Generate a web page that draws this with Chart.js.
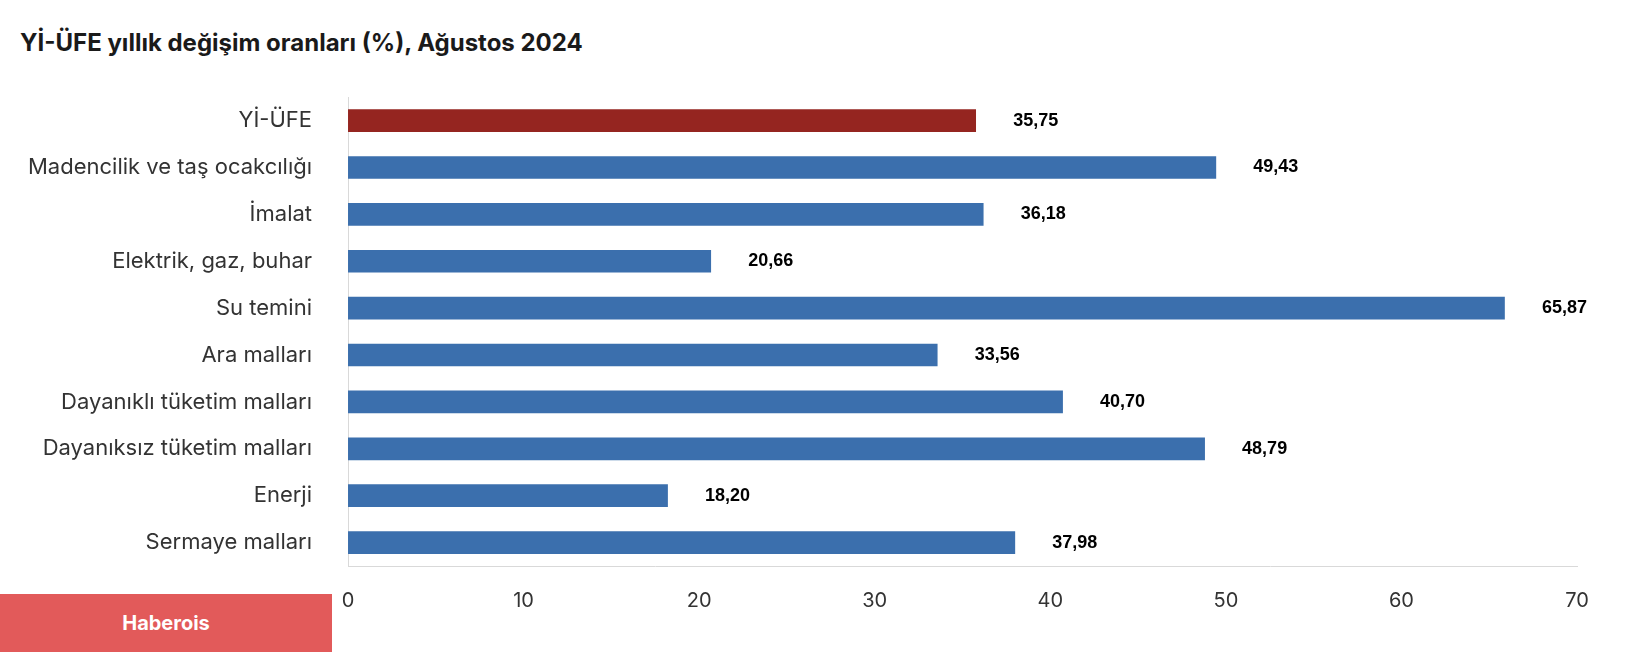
<!DOCTYPE html>
<html><head><meta charset="utf-8">
<script src="https://cdn.jsdelivr.net/npm/chart.js@4/dist/chart.umd.min.js"></script>
<style>
html,body{margin:0;padding:0;background:#fff;width:1628px;height:652px;overflow:hidden;font-family:Inter,"Open Sans",sans-serif}
#title{position:absolute;left:20px;top:28px;font-size:24px;font-weight:700;color:#1a1a1a}
#wrap{position:absolute;left:0;top:56px;width:1628px;height:580px}
#brand{position:absolute;left:0;top:594px;width:332px;height:58px;background:#e25a5a;color:#fff;font-weight:700;font-size:20px;display:flex;align-items:center;justify-content:center}
</style></head><body>
<div id="title">Yİ-ÜFE yıllık değişim oranları (%), Ağustos 2024</div>
<div id="wrap"><canvas id="c"></canvas></div>
<div id="brand">Haberois</div>
<script>
const categories=["Yİ-ÜFE","Madencilik ve taş ocakcılığı","İmalat","Elektrik, gaz, buhar","Su temini","Ara malları","Dayanıklı tüketim malları","Dayanıksız tüketim malları","Enerji","Sermaye malları"];
const values=[35.75,49.43,36.18,20.66,65.87,33.56,40.70,48.79,18.20,37.98];
const xTicks=[0,10,20,30,40,50,60,70];
const colors=values.map((v,i)=>i===0?"#952520":"#3b6fad");
const labelPlugin={id:"lbl",afterDatasetsDraw(ch){const c=ch.ctx;const m=ch.getDatasetMeta(0);c.save();c.font="bold 18px 'Liberation Sans',Arial";c.fillStyle="#000";c.textBaseline="middle";c.textAlign="center";m.data.forEach((b,i)=>{c.fillText(values[i].toFixed(2).replace(".",","),b.x+60,b.y);});c.restore();}};
new Chart(document.getElementById("c"),{type:"bar",data:{labels:categories,datasets:[{data:values,backgroundColor:colors,barThickness:22}]},
options:{indexAxis:"y",responsive:true,maintainAspectRatio:false,animation:false,layout:{padding:{right:51,left:0,top:6}},
plugins:{legend:{display:false},tooltip:{enabled:false}},
scales:{x:{min:0,max:70,afterBuildTicks(a){a.ticks=xTicks.map(v=>({value:v}));},grid:{display:false,drawTicks:false},border:{display:true,color:"#d9d9d9"},ticks:{color:"#333",font:{size:20,family:"Inter"},padding:23}},
y:{grid:{display:false},border:{display:true,color:"#d9d9d9"},ticks:{color:"#333",font:{size:22,family:"Inter"},padding:28}}}},plugins:[labelPlugin]});
</script></body></html>
